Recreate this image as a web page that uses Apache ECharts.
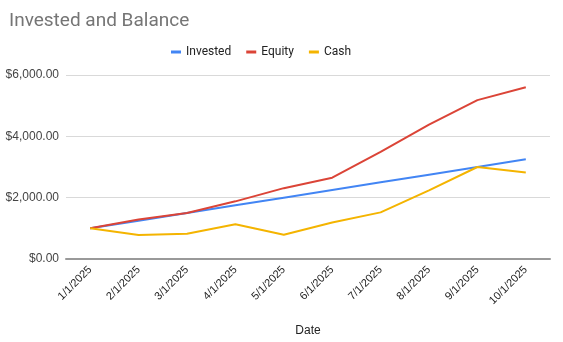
<!DOCTYPE html>
<html><head><meta charset="utf-8">
<script src="https://cdn.jsdelivr.net/npm/echarts@6/dist/echarts.min.js"></script>
<style>html,body{margin:0;padding:0;background:#fff}#c{width:563px;height:342px}</style>
</head><body><div id="c"></div>
<script>
const dates = ['1/1/2025','2/1/2025','3/1/2025','4/1/2025','5/1/2025','6/1/2025','7/1/2025','8/1/2025','9/1/2025','10/1/2025'];
const invested = [1000,1250,1500,1750,2000,2250,2500,2750,3000,3250];
const equity = [1000,1290,1500,1880,2310,2650,3490,4380,5180,5600];
const cash = [1000,780,820,1130,790,1190,1520,2240,3000,2820];
const yTicks = [0,2000,4000,6000];

const chart = echarts.init(document.getElementById('c'));
const F = 'Arial, "Liberation Sans", sans-serif';
const R = 'Roboto, Arial, sans-serif';
chart.setOption({
  animation:false,
  title:{text:'Invested and Balance',left:4,top:7,textStyle:{fontFamily:R,fontSize:19,fontWeight:'normal',color:'#757575'}},
  legend:{left:166,top:41,itemWidth:10,itemHeight:3,itemGap:15,icon:'rect',
    textStyle:{fontFamily:R,fontSize:12,color:'#222'},data:['Invested','Equity','Cash']},
  grid:{left:66,right:13,top:75,bottom:81},
  xAxis:{type:'category',data:dates,boundaryGap:true,
    axisLine:{lineStyle:{color:'#999',width:2}},axisTick:{show:false},
    axisLabel:{rotate:45,fontFamily:F,fontSize:11,color:'#222',margin:9,interval:0},
    name:'Date',nameLocation:'middle',nameGap:66,nameTextStyle:{fontFamily:F,fontSize:12,color:'#222'}},
  yAxis:{type:'value',min:yTicks[0],max:yTicks[yTicks.length-1],interval:2000,
    axisLine:{show:false},axisTick:{show:false},
    splitLine:{lineStyle:{color:'#d9d9d9',width:1}},
    axisLabel:{fontFamily:F,fontSize:12,color:'#444',margin:7,
      formatter:v=>'$'+v.toLocaleString('en-US',{minimumFractionDigits:2,maximumFractionDigits:2})}},
  series:[
    {name:'Invested',type:'line',data:invested,showSymbol:false,lineStyle:{width:2,color:'#4285f4'},itemStyle:{color:'#4285f4'}},
    {name:'Equity',type:'line',data:equity,showSymbol:false,lineStyle:{width:2,color:'#db4437'},itemStyle:{color:'#db4437'}},
    {name:'Cash',type:'line',data:cash,showSymbol:false,lineStyle:{width:2,color:'#f4b400'},itemStyle:{color:'#f4b400'}}
  ]
});
</script></body></html>
